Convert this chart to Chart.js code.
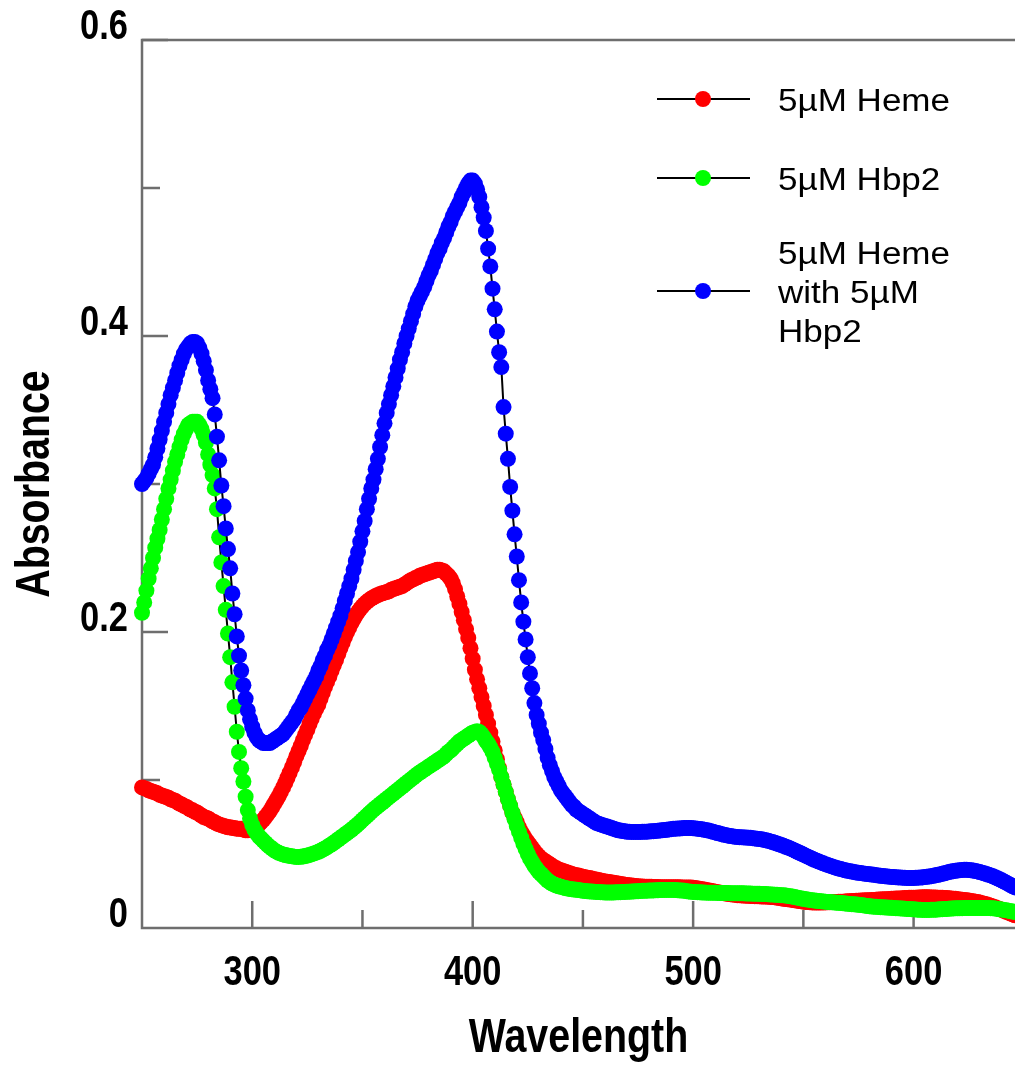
<!DOCTYPE html>
<html>
<head>
<meta charset="utf-8">
<title>Absorbance spectra</title>
<script src="https://cdn.jsdelivr.net/npm/chart.js@4.4.1/dist/chart.umd.min.js"></script>
<style>
  html, body { margin: 0; padding: 0; background: #ffffff; }
  #wrap { width: 1015px; height: 1067px; }
</style>
</head>
<body>
<div id="wrap"><canvas id="spectra" width="1015" height="1067"></canvas></div>
<script>
// Spektrum absorbansi, satu titik per nm dari 250 sampai 650 nm
const startNm = 250;
const endNm = 650;

// 5µM Heme
const hemeValues = [
  .095,.0945,.094,.093,.0925,.092,.0915,.091,.090,.0895,
  .089,.0885,.088,.087,.0865,.086,.085,.084,.0835,.0825,
  .082,.081,.080,.0795,.0785,.078,.077,.076,.075,.0745,
  .074,.073,.072,.0715,.0705,.070,.0695,.069,.0685,.068,
  .068,.0675,.0675,.067,.067,.067,.0665,.066,.066,.0665,
  .067,.068,.069,.070,.0715,.073,.075,.077,.079,.0815,
  .084,.0865,.089,.092,.095,.098,.1015,.105,.1085,.112,
  .116,.1195,.123,.127,.1305,.134,.138,.1415,.145,.148,
  .151,.155,.159,.163,.1665,.170,.174,.1775,.181,.185,
  .189,.1928,.1964,.1998,.203,.206,.2088,.2113,.2136,.2156,
  .2174,.219,.2204,.2216,.2226,.2235,.2243,.225,.2256,.2261,
  .2266,.227,.2275,.2285,.229,.2295,.230,.2305,.231,.232,
  .233,.234,.235,.2355,.2365,.237,.238,.2385,.239,.2395,
  .240,.2405,.241,.2415,.242,.242,.2415,.241,.2395,.238,
  .236,.233,.229,.224,.219,.2135,.208,.202,.196,.189,
  .182,.1745,.168,.162,.156,.150,.144,.138,.132,.126,
  .120,.114,.108,.102,.097,.092,.087,.0825,.078,.0745,
  .0715,.068,.065,.0625,.060,.058,.056,.054,.052,.050,
  .0485,.047,.046,.045,.044,.043,.042,.041,.0403,.0396,
  .039,.0385,.038,.0375,.037,.0365,.036,.0357,.0354,.035,
  .0346,.0343,.034,.0337,.0334,.033,.0327,.0324,.0321,.0318,
  .0315,.0312,.031,.0307,.0305,.0302,.030,.0298,.0295,.0293,
  .029,.0289,.0287,.0285,.0283,.0282,.028,.028,.0279,.0279,
  .0278,.0278,.0277,.0277,.0277,.0276,.0276,.0276,.0276,.0276,
  .0276,.0275,.0275,.0275,.0275,.0274,.0274,.0274,.0273,.0273,
  .0272,.027,.0267,.0265,.0262,.026,.0257,.0254,.0251,.0248,
  .0245,.0242,.024,.0237,.0235,.0232,.023,.0228,.0226,.0224,
  .0222,.0221,.022,.0219,.0218,.0218,.0217,.0216,.0215,.0215,
  .0214,.0213,.0212,.0212,.0211,.021,.021,.0207,.0205,.0203,
  .020,.0198,.0196,.0194,.0192,.019,.0187,.0185,.0182,.018,
  .0178,.0176,.0175,.0174,.0173,.0172,.0172,.0172,.0172,.0173,
  .0173,.0174,.0174,.0175,.0176,.0176,.0177,.0178,.0178,.0179,
  .018,.0181,.0182,.0183,.0184,.0184,.0185,.0186,.0187,.0188,
  .0188,.0189,.019,.0191,.0192,.0193,.0194,.0195,.0195,.0196,
  .0197,.0198,.0199,.02,.02,.0201,.0202,.0203,.0204,.0204,
  .0205,.0205,.0206,.0206,.0207,.0207,.0207,.0207,.0206,.0206,
  .0206,.0205,.0205,.0204,.0203,.0202,.0201,.02,.0198,.0197,
  .0195,.0193,.0191,.0189,.0187,.0185,.0183,.0181,.0178,.0175,
  .0172,.0168,.0164,.016,.0155,.015,.0145,.014,.0134,.0128,
  .0122,.0116,.011,.0104,.0098,.0092,.0086,.008,.0074,.0068,
  .0062
];

// 5µM Hbp2
const hbpValues = [
  .213,.220,.228,.236,.243,.250,.257,.263,.269,.276,
  .283,.290,.297,.303,.309,.315,.320,.325,.330,.334,
  .337,.340,.341,.342,.342,.342,.340,.337,.333,.328,
  .320,.313,.306,.297,.283,.264,.247,.231,.215,.199,
  .183,.166,.1495,.1326,.119,.108,.099,.0887,.0797,.074,
  .0696,.0665,.064,.062,.0605,.059,.0575,.056,.0548,.0536,
  .0525,.0516,.0508,.0502,.0497,.0493,.049,.0487,.0484,.0482,
  .048,.048,.0481,.0483,.0486,.049,.0494,.0499,.0504,.0509,
  .0515,.0522,.053,.0538,.0547,.0556,.0566,.0576,.0587,.0598,
  .0609,.062,.0631,.0642,.0653,.0664,.0676,.0689,.0702,.0716,
  .073,.0744,.0758,.0772,.0786,.080,.0812,.0824,.0836,.0848,
  .086,.0872,.0884,.0896,.0908,.092,.0932,.0944,.0956,.0968,
  .098,.0992,.1004,.1016,.1028,.104,.105,.106,.107,.108,
  .109,.110,.111,.112,.113,.114,.115,.116,.1175,.119,
  .120,.1215,.123,.1245,.126,.127,.128,.129,.130,.131,
  .132,.1325,.133,.1325,.131,.129,.1265,.1245,.122,.119,
  .115,.111,.107,.102,.097,.092,.087,.0825,.078,.0735,
  .069,.065,.061,.057,.0535,.050,.047,.0445,.042,.040,
  .038,.0365,.035,.0335,.032,.031,.030,.0293,.0287,.0282,
  .0278,.0274,.027,.0267,.0264,.0262,.026,.0258,.0256,.0254,
  .0252,.025,.0248,.0247,.0246,.0245,.0244,.0243,.0242,.0241,
  .024,.024,.024,.024,.024,.0241,.0241,.0242,.0243,.0244,
  .0245,.0245,.0246,.0247,.0248,.0249,.025,.0251,.0251,.0252,
  .0253,.0253,.0254,.0255,.0255,.0256,.0256,.0257,.0257,.0257,
  .0257,.0257,.0256,.0255,.0254,.0253,.0251,.0249,.0247,.0245,
  .0244,.0243,.0242,.0241,.024,.024,.0239,.0239,.0238,.0238,
  .0238,.0237,.0237,.0237,.0236,.0236,.0236,.0235,.0235,.0235,
  .0234,.0234,.0234,.0234,.0233,.0233,.0233,.0232,.0232,.0231,
  .0231,.023,.023,.0229,.0228,.0227,.0226,.0225,.0224,.0223,
  .0222,.0221,.0219,.0217,.0215,.0212,.0209,.0206,.0203,.02,
  .0197,.0194,.0192,.019,.0188,.0186,.0184,.0182,.0181,.0179,
  .0178,.0176,.0175,.0174,.0172,.0171,.017,.0169,.0167,.0166,
  .0164,.0163,.0161,.016,.0158,.0157,.0155,.0153,.0151,.0149,
  .0147,.0145,.0144,.0143,.0142,.0141,.014,.0139,.0138,.0137,
  .0136,.0135,.0134,.0133,.0132,.0131,.013,.0129,.0128,.0127,
  .0126,.0125,.0124,.0123,.0122,.0122,.0122,.0122,.0123,.0123,
  .0124,.0125,.0126,.0127,.0128,.0129,.013,.0131,.0132,.0133,
  .0133,.0134,.0134,.0135,.0135,.0135,.0135,.0135,.0135,.0135,
  .0135,.0135,.0135,.0135,.0135,.0134,.0133,.0131,.0129,.0127,
  .0125,.0122,.012,.0117,.0114,.0111,.0108,.0105,.0102,.0099,
  .0096
];

// 5µM Heme with 5µM Hbp2
const complexValues = [
  .300,.302,.304,.307,.310,.313,.318,.324,.330,.336,
  .342,.348,.354,.360,.365,.370,.375,.380,.384,.388,
  .391,.393,.395,.396,.396,.395,.392,.388,.383,.377,
  .370,.364,.358,.347,.332,.316,.299,.285,.270,.256,
  .243,.226,.212,.197,.184,.174,.164,.155,.147,.141,
  .136,.132,.129,.127,.126,.125,.125,.125,.125,.126,
  .127,.128,.129,.130,.131,.133,.135,.137,.139,.141,
  .144,.147,.149,.152,.155,.158,.161,.164,.167,.170,
  .174,.177,.181,.184,.188,.191,.195,.199,.203,.207,
  .211,.216,.221,.226,.231,.236,.242,.248,.254,.261,
  .268,.275,.283,.290,.297,.303,.310,.317,.325,.333,
  .341,.348,.354,.360,.366,.372,.378,.384,.389,.395,
  .400,.405,.410,.415,.420,.424,.427,.430,.433,.437,
  .441,.444,.448,.452,.456,.459,.463,.466,.470,.474,
  .477,.481,.484,.487,.490,.494,.497,.500,.503,.505,
  .505,.503,.499,.494,.487,.480,.471,.459,.447,.432,
  .418,.403,.389,.379,.352,.334,.317,.298,.282,.266,
  .251,.235,.220,.207,.195,.183,.172,.162,.152,.144,
  .138,.132,.127,.121,.115,.110,.106,.102,.099,.096,
  .093,.091,.089,.087,.085,.083,.082,.080,.079,.078,
  .077,.076,.075,.074,.073,.072,.071,.0705,.070,.0695,
  .069,.0685,.068,.0675,.067,.0665,.066,.0658,.0655,.0653,
  .065,.065,.0649,.0649,.0649,.0649,.0649,.065,.065,.0651,
  .0652,.0653,.0654,.0656,.0657,.0659,.066,.0662,.0664,.0666,
  .0668,.067,.0671,.0672,.0673,.0674,.0675,.0675,.0675,.0675,
  .0674,.0673,.0671,.0669,.0667,.0664,.0661,.0658,.0654,.065,
  .0646,.0642,.0638,.0634,.063,.0627,.0624,.0621,.0619,.0617,
  .0615,.0614,.0613,.0612,.0611,.061,.0609,.0607,.0605,.0603,
  .0601,.0599,.0596,.0593,.0589,.0585,.0581,.0576,.0571,.0566,
  .056,.0555,.0549,.0544,.0538,.0531,.0524,.0517,.051,.0503,
  .0496,.0489,.0482,.0475,.0468,.0461,.0455,.0449,.0443,.0437,
  .0431,.0426,.0421,.0416,.0411,.0406,.0402,.0398,.0394,.039,
  .0387,.0384,.0381,.0378,.0375,.0373,.0371,.0369,.0367,.0365,
  .0363,.0361,.0359,.0357,.0355,.0353,.0351,.035,.0348,.0347,
  .0345,.0344,.0343,.0342,.0341,.034,.0339,.0338,.0338,.0338,
  .0338,.0339,.034,.0341,.0342,.0344,.0346,.0348,.035,.0353,
  .0356,.0359,.0362,.0366,.037,.0374,.0378,.0381,.0384,.0387,
  .0389,.0391,.0392,.0393,.0393,.0392,.039,.0388,.0385,.0382,
  .0378,.0374,.037,.0365,.036,.0355,.0349,.0343,.0336,.0329,
  .0322,.0314,.0306,.0298,.029,.0282,.0274,.0266,.0258,.025,
  .0242
];

// Label sumbu dan legenda
const xTickLabels = [300, 400, 500, 600];
const yTickLabels = ['0', '0.2', '0.4', '0.6'];
const seriesNames = [['5µM Heme'], ['5µM Hbp2'], ['5µM Heme', 'with 5µM', 'Hbp2']];
const seriesColors = ['#ff0000', '#00ff00', '#0000ff'];

const wavelengths = [];
for (let nm = startNm; nm <= endNm; nm++) wavelengths.push(nm);

function toPoints(values) {
  return values.map((v, i) => ({ x: wavelengths[i], y: v }));
}

const axisColor = '#6e6e6e';

// Teks tebal yang dipersempit (mirip Arial Narrow Bold)
function narrowText(ctx, text, x, y, size, align, angle) {
  ctx.save();
  ctx.font = 'bold ' + size + 'px "Liberation Sans", Arial, sans-serif';
  ctx.fillStyle = '#000000';
  ctx.textAlign = align;
  ctx.textBaseline = 'alphabetic';
  ctx.translate(x, y);
  if (angle) ctx.rotate(angle);
  ctx.scale(0.82, 1);
  ctx.fillText(text, 0, 0);
  ctx.restore();
}

// Teks legenda: huruf biasa, sedikit dilebarkan
function wideText(ctx, text, x, y) {
  ctx.save();
  ctx.font = '31px "Liberation Sans", Arial, sans-serif';
  ctx.fillStyle = '#000000';
  ctx.textAlign = 'left';
  ctx.textBaseline = 'alphabetic';
  ctx.translate(x, y);
  ctx.scale(1.13, 1);
  ctx.fillText(text, 0, 0);
  ctx.restore();
}

const axesPlugin = {
  id: 'axesPlugin',
  beforeDatasetsDraw(chart) {
    const { ctx, chartArea: a, scales: { x, y } } = chart;
    ctx.save();
    ctx.strokeStyle = axisColor;
    ctx.lineWidth = 2.5;
    ctx.lineJoin = 'miter';
    ctx.beginPath();
    ctx.moveTo(a.right, a.top);
    ctx.lineTo(a.left, a.top);
    ctx.lineTo(a.left, a.bottom);
    ctx.lineTo(a.right, a.bottom);
    ctx.stroke();

    // tick ke dalam: mayor panjang, minor pendek
    ctx.beginPath();
    x.ticks.forEach(t => {
      if (t.value <= startNm) return;
      const px = x.getPixelForValue(t.value);
      const len = t.value % 100 === 0 ? 27 : 18;
      ctx.moveTo(px, a.bottom);
      ctx.lineTo(px, a.bottom - len);
    });
    y.ticks.forEach(t => {
      if (t.value <= 0) return;
      const py = y.getPixelForValue(t.value);
      const len = Math.round(t.value * 10) % 2 === 0 ? 26 : 18;
      ctx.moveTo(a.left, py);
      ctx.lineTo(a.left + len, py);
    });
    ctx.stroke();
    ctx.restore();
  },
  afterDraw(chart) {
    const { ctx, chartArea: a, scales: { x, y } } = chart;

    xTickLabels.forEach(v => {
      narrowText(ctx, String(v), x.getPixelForValue(v), 985, 42, 'center');
    });
    yTickLabels.forEach(s => {
      narrowText(ctx, s, a.left - 14, y.getPixelForValue(parseFloat(s)) - 1, 42, 'right');
    });

    narrowText(ctx, 'Wavelength', (a.left + a.right) / 2, 1052, 48, 'center');
    narrowText(ctx, 'Absorbance', 49, (a.top + a.bottom) / 2, 48, 'center', -Math.PI / 2);

    // legenda
    const lineY = [99, 178, 291];
    const firstBase = [111, 190, 264];
    ctx.save();
    seriesNames.forEach((lines, i) => {
      ctx.strokeStyle = '#000000';
      ctx.lineWidth = 2;
      ctx.beginPath();
      ctx.moveTo(657, lineY[i]);
      ctx.lineTo(750, lineY[i]);
      ctx.stroke();
      ctx.fillStyle = seriesColors[i];
      ctx.beginPath();
      ctx.arc(703, lineY[i], 8, 0, Math.PI * 2);
      ctx.fill();
      lines.forEach((txt, j) => wideText(ctx, txt, 778, firstBase[i] + j * 39));
    });
    ctx.restore();
  }
};

function makeDataset(label, values, color, order) {
  return {
    label: label,
    data: toPoints(values),
    borderColor: '#000000',
    borderWidth: 2,
    pointRadius: 8,
    pointBorderWidth: 0,
    pointBackgroundColor: color,
    pointHoverRadius: 8,
    tension: 0,
    fill: false,
    clip: false,
    order: order
  };
}

const ctx = document.getElementById('spectra').getContext('2d');
new Chart(ctx, {
  type: 'line',
  data: {
    datasets: [
      makeDataset(seriesNames[0].join(' '), hemeValues, seriesColors[0], 3),
      makeDataset(seriesNames[1].join(' '), hbpValues, seriesColors[1], 2),
      makeDataset(seriesNames[2].join(' '), complexValues, seriesColors[2], 1)
    ]
  },
  options: {
    responsive: false,
    animation: false,
    devicePixelRatio: 1,
    layout: { autoPadding: false, padding: { top: 40, right: 0, bottom: 0, left: 0 } },
    plugins: { legend: { display: false }, tooltip: { enabled: false } },
    scales: {
      x: {
        type: 'linear',
        min: 250,
        max: 646,
        ticks: { display: false, stepSize: 50, includeBounds: false },
        grid: { display: false },
        border: { display: false },
        afterFit: s => { s.height = 139; }
      },
      y: {
        type: 'linear',
        min: 0,
        max: 0.6,
        ticks: { display: false, stepSize: 0.1 },
        grid: { display: false },
        border: { display: false },
        afterFit: s => { s.width = 142; }
      }
    }
  },
  plugins: [axesPlugin]
});
</script>
</body>
</html>
